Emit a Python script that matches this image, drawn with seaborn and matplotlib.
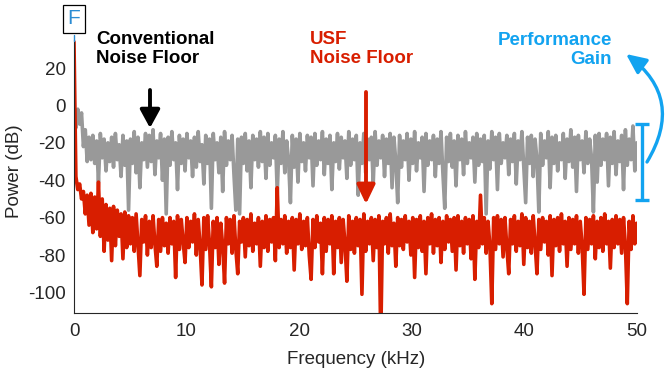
import numpy as np
import matplotlib
matplotlib.use("Agg")
import matplotlib.pyplot as plt
import seaborn as sns
from matplotlib.patches import FancyArrowPatch
from matplotlib.lines import Line2D

# ---------------- data ----------------
freq_khz = np.linspace(0, 50, 300)

conventional_db = [
    -8, -12, -2, -10, -4, -22, -13, -30, -17, -29,
    -16, -31, -19, -41, -15, -28, -18, -35, -20, -30,
    -17, -33, -15, -29, -21, -38, -16, -32, -19, -56,
    -18, -31, -14, -36, -17, -44, -20, -29, -15, -33,
    -16, -30, -13, -37, -19, -28, -15, -40, -18, -58,
    -17, -32, -14, -29, -20, -45, -16, -31, -18, -35,
    -15, -28, -19, -38, -17, -33, -14, -30, -21, -42,
    -16, -31, -18, -55, -15, -29, -20, -36, -17, -46,
    -14, -32, -19, -29, -16, -37, -56, -18, -58, -17,
    -31, -15, -35, -19, -44, -16, -29, -18, -33, -14,
    -30, -17, -39, -15, -32, -20, -28, -16, -47, -18,
    -31, -14, -36, -19, -29, -52, -16, -33, -18, -41,
    -15, -30, -20, -35, -16, -28, -17, -43, -15, -32,
    -19, -29, -14, -37, -18, -31, -16, -45, -20, -30,
    -15, -34, -17, -28, -19, -39, -14, -32, -18, -29,
    -16, -48, -20, -31, -15, -36, -18, -29, -17, -42,
    -14, -32, -19, -28, -16, -38, -18, -31, -15, -44,
    -17, -30, -52, -16, -33, -19, -29, -15, -40, -18,
    -31, -14, -35, -20, -28, -17, -46, -15, -32, -19,
    -29, -16, -38, -18, -31, -14, -36, -55, -17, -30,
    -15, -33, -19, -43, -16, -29, -18, -37, -14, -31,
    -20, -28, -17, -41, -15, -32, -18, -30, -16, -58,
    -19, -34, -14, -29, -17, -45, -15, -31, -20, -28,
    -16, -37, -18, -30, -15, -42, -19, -29, -14, -33,
    -52, -17, -31, -16, -38, -18, -29, -57, -15, -32,
    -19, -28, -14, -44, -17, -31, -16, -35, -20, -29,
    -15, -39, -18, -30, -13, -33, -17, -46, -16, -29,
    -19, -36, -14, -31, -18, -28, -57, -16, -41, -15,
    -32, -18, -29, -15, -43, -17, -31, -14, -37, -19,
    -30, -16, -45, -13, -32, -18, -29, -11, -35, -20,
]

usf_db = [
    34, -38, -45, -42, -50, -46, -58, -48, -64, -47,
    -68, -49, -66, -41, -70, -50, -78, -53, -72, -55,
    -83, -54, -75, -56, -70, -58, -82, -57, -76, -59,
    -74, -60, -78, -58, -75, -91, -61, -73, -59, -80,
    -62, -76, -59, -74, -86, -61, -78, -60, -75, -63,
    -79, -60, -74, -62, -92, -59, -77, -61, -73, -84,
    -60, -76, -62, -73, -58, -80, -61, -75, -96, -60,
    -77, -59, -74, -97, -62, -76, -60, -85, -63, -75,
    -95, -60, -74, -61, -79, -59, -77, -90, -62, -73,
    -60, -81, -61, -75, -58, -78, -63, -74, -60, -86,
    -62, -76, -59, -78, -61, -73, -60, -83, -44, -76,
    -61, -74, -59, -79, -62, -76, -60, -88, -61, -74,
    -58, -77, -62, -75, -60, -80, -93, -61, -76, -59,
    -73, -63, -90, -60, -78, -61, -74, -59, -90, -62,
    -76, -60, -84, -61, -74, -94, -59, -77, -62, -79,
    -60, -75, -61, -101, -58, -78, -62, -74, -60, -83,
    -61, -76, -59, -125, -62, -74, -60, -79, -58, -75,
    -63, -86, -60, -75, -61, -77, -59, -73, -62, -80,
    -60, -92, -61, -76, -59, -78, -62, -90, -60, -74,
    -58, -79, -61, -75, -60, -84, -62, -77, -59, -73,
    -61, -78, -60, -88, -59, -75, -62, -79, -60, -74,
    -61, -82, -59, -93, -62, -76, -48, -74, -60, -79,
    -62, -75, -106, -60, -77, -59, -74, -61, -81, -60,
    -76, -90, -61, -74, -59, -78, -62, -75, -58, -85,
    -60, -76, -62, -79, -59, -74, -90, -61, -77, -60,
    -73, -62, -80, -59, -91, -61, -75, -60, -78, -58,
    -74, -62, -86, -60, -77, -61, -74, -59, -79, -62,
    -75, -101, -60, -77, -61, -74, -59, -82, -62, -76,
    -60, -78, -58, -74, -62, -87, -61, -76, -59, -74,
    -61, -79, -60, -75, -106, -62, -77, -59, -74, -63,
]

x_ticks = [0, 10, 20, 30, 40, 50]
y_ticks = [-100, -80, -60, -40, -20, 0, 20]
y_tick_labels = ["-100", "-80", "-60", "-40", "-20", "0", "20"]

# ---------------- style ----------------
GRAY = "#999999"
RED = "#d81e00"
BLUE = "#12a3f0"
FBLUE = "#2b8cd3"
AXC = "#262626"

sns.set_style("white")
plt.rcParams["font.family"] = ["Liberation Sans", "DejaVu Sans"]
plt.rcParams["axes.unicode_minus"] = False

W, H = 669, 376
fig = plt.figure(figsize=(W / 100, H / 100), dpi=100)


def fx(x):
    return x / W


def fy(y):
    return 1 - y / H


X0, X1, YT, YB = 74, 636.7, 40, 313
ax = fig.add_axes([fx(X0), fy(YB), fx(X1) - fx(X0), fy(YT) - fy(YB)])

sns.lineplot(x=freq_khz, y=conventional_db, ax=ax, color=GRAY, lw=2.6,
             estimator=None, sort=False)
sns.lineplot(x=freq_khz, y=usf_db, ax=ax, color=RED, lw=2.6,
             estimator=None, sort=False)
for ln in ax.lines:
    ln.set_solid_joinstyle("round")

ax.set_xlim(0, 50)
ax.set_ylim(-111, 35)
ax.set_xticks(x_ticks)
ax.set_xticklabels([str(t) for t in x_ticks])
ax.set_yticks(y_ticks)
ax.set_yticklabels(y_tick_labels)
ax.tick_params(direction="in", length=4, width=0.8, colors=AXC,
               labelsize=13.5, labelcolor=AXC)
ax.tick_params(axis="x", pad=7)
ax.tick_params(axis="y", pad=6)
for s in ["top", "right"]:
    ax.spines[s].set_visible(False)
for s in ["left", "bottom"]:
    ax.spines[s].set_color(AXC)
    ax.spines[s].set_linewidth(0.8)
ax.set_xlabel("")
ax.set_ylabel("")

fig.text(fx(356), fy(364), "Frequency (kHz)", ha="center", va="baseline",
         fontsize=13.5, color=AXC)
fig.text(fx(15), fy(171), "Power (dB)", ha="center", va="center",
         rotation=90, fontsize=13.5, color=AXC)

# ---------------- annotations ----------------
fig.text(fx(96), fy(31), "Conventional\nNoise Floor", ha="left", va="top",
         fontsize=13.5, fontweight="bold", color="black", linespacing=1.12)
fig.text(fx(310), fy(31), "USF\nNoise Floor", ha="left", va="top",
         fontsize=13.5, fontweight="bold", color=RED, linespacing=1.12)
fig.text(fx(612), fy(32), "Performance\nGain", ha="right", va="top",
         fontsize=13.5, fontweight="bold", color=BLUE, linespacing=1.12)

# "F" marker box above the fundamental
fig.text(fx(74), fy(19), "F", ha="center", va="center", fontsize=15,
         color=FBLUE,
         bbox=dict(boxstyle="square,pad=0.22", fc="white", ec="black", lw=0.9))
fig.add_artist(Line2D([fx(74), fx(74)], [fy(35), fy(41)], color=FBLUE,
                      lw=1.0, transform=fig.transFigure))

# straight arrows
for (x, y0, y1, col, hl, hw) in [(150, 90, 128, "black", 1.1, 0.6),
                                 (366, 92, 204, RED, 1.15, 0.55)]:
    fig.add_artist(FancyArrowPatch(
        (fx(x), fy(y0)), (fx(x), fy(y1)), transform=fig.transFigure,
        arrowstyle=f"-|>,head_length={hl},head_width={hw}",
        mutation_scale=10, lw=2.8, color=col, shrinkA=0, shrinkB=0))

# I-beam showing the gain
bx, by0, by1, cw = 642, 124, 200, 7
for seg in [([bx, bx], [by0, by1]), ([bx - cw, bx + cw], [by0, by0]),
            ([bx - cw, bx + cw], [by1, by1])]:
    fig.add_artist(Line2D([fx(v) for v in seg[0]], [fy(v) for v in seg[1]],
                          color=BLUE, lw=2.4, transform=fig.transFigure,
                          solid_capstyle="butt"))

# curved arrow
fig.add_artist(FancyArrowPatch(
    (fx(647), fy(162)), (fx(626), fy(54)), transform=fig.transFigure,
    connectionstyle="arc3,rad=0.45",
    arrowstyle="-|>,head_length=1.2,head_width=0.55",
    mutation_scale=10, lw=2.4, color=BLUE, shrinkA=0, shrinkB=0))

fig.savefig("out.png", dpi=100)
